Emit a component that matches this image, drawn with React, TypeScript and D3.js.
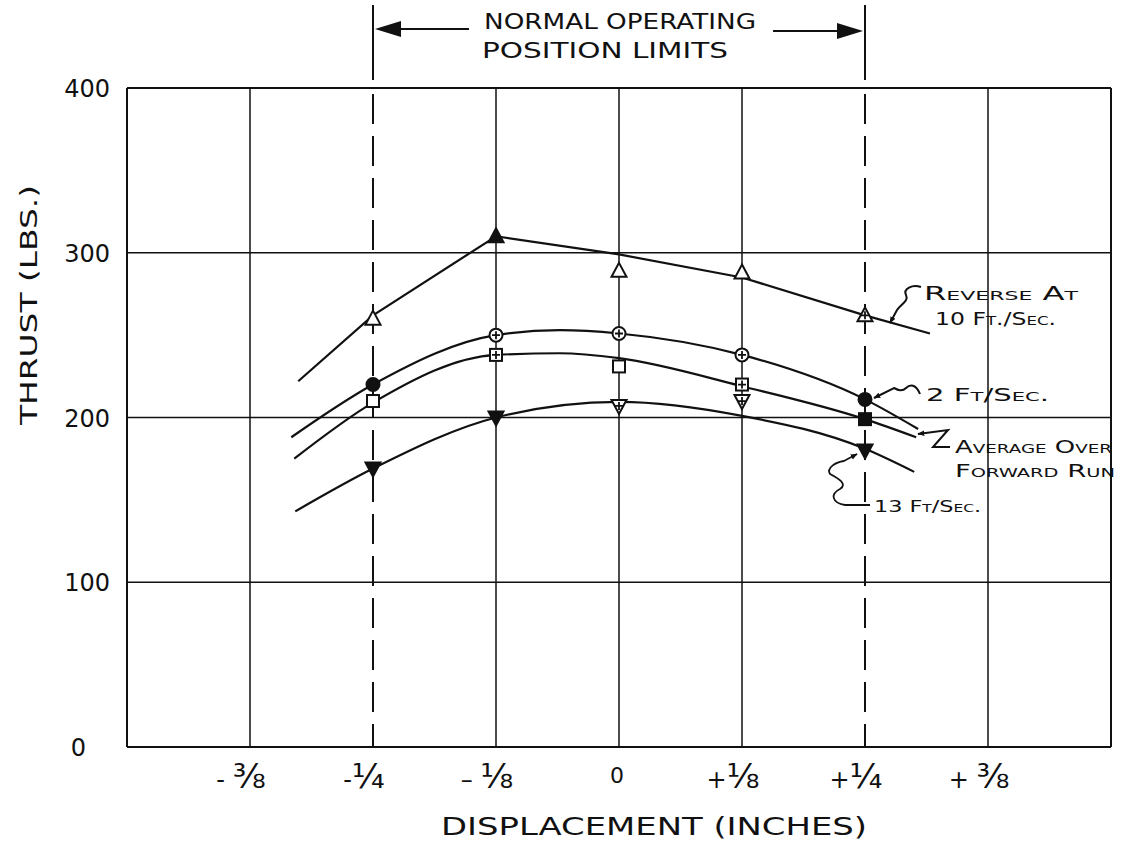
import React from "react";
import * as d3 from "d3";

// axis ticks
const xTicks = [-0.375, -0.25, -0.125, 0, 0.125, 0.25, 0.375];
const xTickSigns = ["- ", "-", "– ", "", "+", "+", "+ "];
const xTickFractions = ["⅜", "¼", "⅛", "0", "⅛", "¼", "⅜"];
const xDashed = [-0.25, 0.25];
const yTicks = [0, 100, 200, 300, 400];

// measured positions (inches)
const positions = [-0.25, -0.125, 0, 0.125, 0.25];

// measured thrust (lbs)
const reverse10 = [260, 310, 289, 288, 262];
const ft2 = [220, 250, 251, 238, 211];
const average = [210, 238, 231, 220, 199];
const ft13 = [169, 200, 207, 210, 180];

// marker fill per point
const reverse10Fill = ["open", "filled", "open", "open", "cross"];
const ft2Fill = ["filled", "cross", "cross", "cross", "filled"];
const averageFill = ["open", "cross", "open", "cross", "filled"];
const ft13Fill = ["filled", "filled", "cross", "cross", "filled"];

// faired curves drawn through the data
const reverse10CurveX = [-0.326, -0.25, -0.125, 0, 0.125, 0.25, 0.316];
const reverse10CurveY = [222, 262, 310, 299, 285, 262, 251];
const ft2CurveX = [-0.333, -0.25, -0.125, -0.06, 0, 0.125, 0.25, 0.304];
const ft2CurveY = [188, 220, 250, 253, 251, 238, 211, 193];
const averageCurveX = [-0.33, -0.25, -0.125, -0.06, 0, 0.125, 0.25, 0.302];
const averageCurveY = [175, 209, 238, 239, 236, 219, 199, 188];
const ft13CurveX = [-0.329, -0.25, -0.125, 0, 0.125, 0.25, 0.3];
const ft13CurveY = [143, 169, 200, 209.5, 201, 181, 167];

const W = 1121;
const H = 852;
const x = d3.scaleLinear().domain([-0.5, 0.5]).range([127, 1111]);
const y = d3.scaleLinear().domain([0, 400]).range([747, 88]);

const INK = "#111";
const FONT = "'DejaVu Sans', sans-serif";

type Kind = "triUp" | "triDown" | "circle" | "square";

function Marker({ kind, fill, cx, cy }: { kind: Kind; fill: string; cx: number; cy: number }) {
  const solid = fill === "filled";
  const common = {
    fill: solid ? INK : "#fff",
    stroke: INK,
    strokeWidth: 2,
  };
  let shape: React.ReactNode = null;
  if (kind === "circle") shape = <circle cx={cx} cy={cy} r={6.5} {...common} />;
  if (kind === "square")
    shape = <rect x={cx - 6} y={cy - 6} width={12} height={12} {...common} />;
  if (kind === "triUp")
    shape = (
      <path d={`M${cx},${cy - 8} L${cx + 7.5},${cy + 6} L${cx - 7.5},${cy + 6} Z`} {...common} />
    );
  if (kind === "triDown")
    shape = (
      <path d={`M${cx},${cy + 8} L${cx + 7.5},${cy - 6} L${cx - 7.5},${cy - 6} Z`} {...common} />
    );
  return (
    <g>
      {shape}
      {fill === "cross" && (
        <path d={`M${cx - 4},${cy} H${cx + 4} M${cx},${cy - 4} V${cy + 4}`} stroke={INK} strokeWidth={1.8} />
      )}
    </g>
  );
}

const curveOf = (xs: number[], ys: number[], curve: d3.CurveFactory) =>
  d3
    .line<number>()
    .x((_, i) => x(xs[i]))
    .y((v) => y(v))
    .curve(curve)(ys) || "";

export default function App() {
  const series = [
    { xs: reverse10CurveX, ys: reverse10CurveY, pts: reverse10, fills: reverse10Fill, kind: "triUp" as Kind, curve: d3.curveLinear },
    { xs: ft2CurveX, ys: ft2CurveY, pts: ft2, fills: ft2Fill, kind: "circle" as Kind, curve: d3.curveMonotoneX },
    { xs: averageCurveX, ys: averageCurveY, pts: average, fills: averageFill, kind: "square" as Kind, curve: d3.curveMonotoneX },
    { xs: ft13CurveX, ys: ft13CurveY, pts: ft13, fills: ft13Fill, kind: "triDown" as Kind, curve: d3.curveMonotoneX },
  ];

  const qL = x(-0.25);
  const qR = x(0.25);

  return (
    <svg
      width={W}
      height={H}
      style={{ position: "absolute", left: 0, top: 0, background: "#fff" }}
      fontFamily={FONT}
    >
      <defs>
        <marker id="ah" viewBox="0 0 10 10" refX="9" refY="5" markerWidth="7" markerHeight="7" orient="auto-start-reverse" markerUnits="userSpaceOnUse">
          <path d="M0,1 L10,5 L0,9 Z" fill={INK} />
        </marker>
      </defs>

      {/* horizontal grid */}
      {yTicks.map((t) => (
        <line key={"h" + t} x1={x(-0.5)} x2={x(0.5)} y1={y(t)} y2={y(t)} stroke={INK} strokeWidth={t === 0 || t === 400 ? 2 : 1.6} />
      ))}
      {/* vertical grid */}
      {xTicks.filter((t) => !xDashed.includes(t)).map((t) => (
        <line key={"v" + t} x1={x(t)} x2={x(t)} y1={y(400)} y2={y(0)} stroke={INK} strokeWidth={1.5} />
      ))}
      <line x1={x(-0.5)} x2={x(-0.5)} y1={y(400)} y2={y(0)} stroke={INK} strokeWidth={2} />
      <line x1={x(0.5)} x2={x(0.5)} y1={y(400)} y2={y(0)} stroke={INK} strokeWidth={2} />
      {/* operating limits */}
      {xDashed.map((t) => (
        <g key={"d" + t}>
          <line x1={x(t)} x2={x(t)} y1={5} y2={80} stroke={INK} strokeWidth={2} />
          <line x1={x(t)} x2={x(t)} y1={y(400) + 6} y2={y(0)} stroke={INK} strokeWidth={2} strokeDasharray="30,12" />
        </g>
      ))}
      <line x1={qL + 96} x2={qL + 20} y1={29} y2={29} stroke={INK} strokeWidth={2} />
      <path d={`M${qL + 2},29 l26,-8 l0,16 Z`} fill={INK} />
      <line x1={qR - 92} x2={qR - 20} y1={31} y2={31} stroke={INK} strokeWidth={2} />
      <path d={`M${qR - 2},31 l-26,-8 l0,16 Z`} fill={INK} />
      <text x={484} y={29} fontSize={22} textLength={272} lengthAdjust="spacingAndGlyphs" fill={INK}>
        NORMAL OPERATING
      </text>
      <text x={482} y={58} fontSize={22} textLength={246} lengthAdjust="spacingAndGlyphs" fill={INK}>
        POSITION LIMITS
      </text>

      {/* curves */}
      {series.map((s, i) => (
        <path key={"c" + i} d={curveOf(s.xs, s.ys, s.curve)} fill="none" stroke={INK} strokeWidth={2.2} />
      ))}
      {/* markers */}
      {series.map((s, i) =>
        s.pts.map((v, j) => (
          <Marker key={`m${i}-${j}`} kind={s.kind} fill={s.fills[j]} cx={x(positions[j])} cy={y(v)} />
        ))
      )}

      {/* y tick labels */}
      {yTicks.map((t) => (
        <text key={"yl" + t} x={t === 0 ? 86 : 110} y={y(t) + 9} fontSize={24} textAnchor="end" fill={INK}>
          {t}
        </text>
      ))}
      {/* x tick labels */}
      {xTicks.map((t, i) => (
        <text key={"xl" + t} x={x(t) + (t === 0 ? -2 : -9)} y={t === 0 ? 783 : 788} textAnchor="middle" fill={INK}>
          <tspan fontSize={24}>{xTickSigns[i]}</tspan>
          <tspan fontSize={t === 0 ? 22 : 34}>{xTickFractions[i]}</tspan>
        </text>
      ))}

      {/* axis titles */}
      <text x={441} y={835} fontSize={24} textLength={426} lengthAdjust="spacingAndGlyphs" fill={INK}>
        DISPLACEMENT (INCHES)
      </text>
      <text
        transform="translate(37,305) rotate(-90)"
        fontSize={23}
        textAnchor="middle"
        textLength={240}
        lengthAdjust="spacingAndGlyphs"
        fill={INK}
      >
        THRUST (LBS.)
      </text>

      {/* annotations */}
      <text x={924} y={300} fontSize={19} style={{ fontVariant: "small-caps" }} textLength={154} lengthAdjust="spacingAndGlyphs" fill={INK}>
        Reverse At
      </text>
      <text x={935} y={325} fontSize={17} style={{ fontVariant: "small-caps" }} textLength={121} lengthAdjust="spacingAndGlyphs" fill={INK}>
        10 Ft./Sec.
      </text>
      <path d="M921,287 C912,284 903,289 906,295 C909,301 901,304 897,310 L890,323" fill="none" stroke={INK} strokeWidth={2} markerEnd="url(#ah)" />

      <text x={926} y={401} fontSize={18} style={{ fontVariant: "small-caps" }} textLength={123} lengthAdjust="spacingAndGlyphs" fill={INK}>
        2 Ft/Sec.
      </text>
      <path d="M920,394 C916,384 910,384 906,388 C902,392 898,390 894,388 L874,398" fill="none" stroke={INK} strokeWidth={2} markerEnd="url(#ah)" />

      <path d="M950,447 L933,447 L948,430 L918,434" fill="none" stroke={INK} strokeWidth={2} markerEnd="url(#ah)" />
      <text x={955} y={453} fontSize={17} style={{ fontVariant: "small-caps" }} textLength={157} lengthAdjust="spacingAndGlyphs" fill={INK}>
        Average Over
      </text>
      <text x={955} y={477} fontSize={17} style={{ fontVariant: "small-caps" }} textLength={160} lengthAdjust="spacingAndGlyphs" fill={INK}>
        Forward Run
      </text>

      <text x={874} y={512} fontSize={16} style={{ fontVariant: "small-caps" }} textLength={107} lengthAdjust="spacingAndGlyphs" fill={INK}>
        13 Ft/Sec.
      </text>
      <path d="M870,505 L845,505 C832,503 830,494 840,489 C848,484 838,478 830,474 C826,468 836,462 844,461 L857,454" fill="none" stroke={INK} strokeWidth={1.8} markerEnd="url(#ah)" />
    </svg>
  );
}
